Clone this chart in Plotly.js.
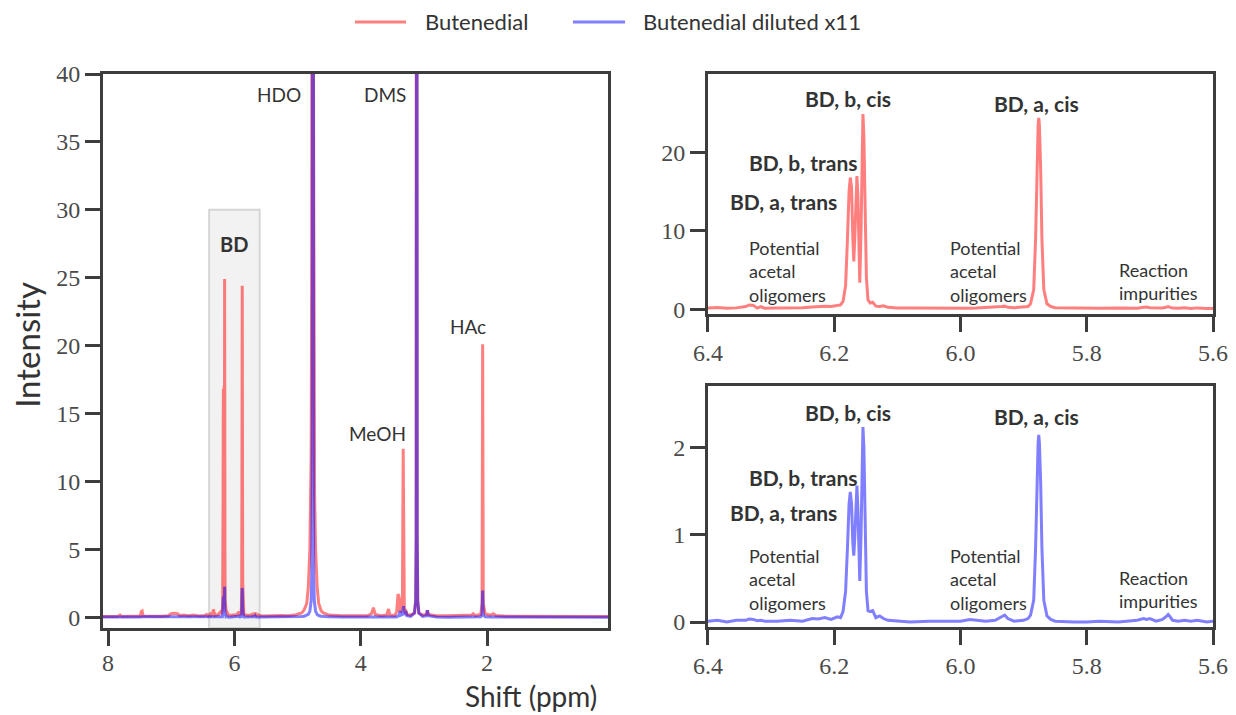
<!DOCTYPE html>
<html>
<head>
<meta charset="utf-8">
<script src="https://cdn.plot.ly/plotly-3.0.1.min.js"></script>
<style>
  html, body { margin: 0; padding: 0; background: #ffffff; }
  #chart { width: 1236px; height: 715px; }
</style>
</head>
<body>
<div id="chart"></div>
<script>
// 1H NMR spectra of butenedial, neat and diluted x11 (shift in ppm, intensity in a.u.)

// Downfield part of the spectrum, above the BD window
const highShift = [8.08, 7.95, 7.85, 7.81, 7.78, 7.65, 7.55, 7.49, 7.475, 7.46, 7.445, 7.30, 7.15, 7.05, 7.00, 6.95, 6.90, 6.86, 6.80, 6.72, 6.65, 6.55, 6.47, 6.44, 6.42];
const highRed   = [0.04, 0.06, 0.05, 0.15, 0.05, 0.06, 0.05, 0.06, 0.40, 0.45, 0.08, 0.05, 0.06, 0.10, 0.25, 0.28, 0.25, 0.12, 0.15, 0.10, 0.15, 0.08, 0.12, 0.20, 0.10];
const highBlue  = [0.01, 0.00, 0.01, 0.01, 0.00, 0.01, 0.00, 0.01, 0.02, 0.02, 0.01, 0.00, 0.01, 0.01, 0.01, 0.02, 0.01, 0.00, 0.01, 0.00, 0.01, 0.00, 0.01, 0.02, 0.01];

// BD window (6.4 - 5.6 ppm)
const bdShift = [6.400, 6.385, 6.370, 6.355, 6.340, 6.335, 6.328, 6.322, 6.316, 6.310,
                 6.290, 6.270, 6.250, 6.235, 6.225, 6.215, 6.205, 6.195, 6.190, 6.186,
                 6.182, 6.179, 6.1765, 6.1745, 6.1725, 6.1705, 6.169, 6.1675, 6.1655, 6.164,
                 6.1625, 6.161, 6.1595, 6.1575, 6.156, 6.1545, 6.153, 6.151, 6.149, 6.1465,
                 6.143, 6.139, 6.134, 6.128, 6.122, 6.115, 6.100, 6.080, 6.050, 6.020,
                 6.000, 5.985, 5.975, 5.960, 5.945, 5.935, 5.930, 5.925, 5.915, 5.900,
                 5.893, 5.889, 5.884, 5.881, 5.879, 5.877, 5.876, 5.875, 5.873, 5.871,
                 5.868, 5.863, 5.857, 5.850, 5.820, 5.800, 5.780, 5.750, 5.720, 5.710,
                 5.705, 5.700, 5.690, 5.680, 5.673, 5.671, 5.668, 5.664, 5.655, 5.645,
                 5.635, 5.625, 5.610, 5.600];
const bdRed   = [0.15, 0.22, 0.12, 0.18, 0.35, 0.55, 0.50, 0.15, 0.35, 0.12,
                 0.15, 0.15, 0.20, 0.30, 0.35, 0.40, 0.35, 0.50, 0.55, 1.0,
                 3.0, 9.0, 15.0, 16.8, 15.5, 9.0, 6.1, 9.0, 15.5, 17.0,
                 14.5, 7.0, 3.4, 10.0, 20.0, 24.9, 22.0, 12.0, 4.0, 1.2,
                 0.8, 0.9, 0.4, 0.35, 0.45, 0.25, 0.15, 0.15, 0.12, 0.15,
                 0.15, 0.12, 0.15, 0.20, 0.25, 0.35, 0.40, 0.25, 0.20, 0.25,
                 0.35, 0.7, 2.5, 9.0, 18.0, 23.5, 24.4, 23.5, 18.0, 9.0,
                 2.5, 0.7, 0.35, 0.20, 0.15, 0.12, 0.12, 0.15, 0.12, 0.25,
                 0.30, 0.20, 0.15, 0.18, 0.30, 0.35, 0.25, 0.15, 0.12, 0.20,
                 0.10, 0.18, 0.10, 0.12];
const bdBlue  = [0.01, 0.02, 0.00, 0.02, 0.02, 0.035, 0.03, 0.015, 0.02, 0.01,
                 0.01, 0.02, 0.01, 0.04, 0.035, 0.05, 0.03, 0.06, 0.05, 0.12,
                 0.35, 0.85, 1.35, 1.49, 1.35, 0.90, 0.76, 0.95, 1.40, 1.56,
                 1.30, 0.70, 0.47, 1.00, 1.80, 2.23, 2.00, 1.10, 0.35, 0.13,
                 0.12, 0.13, 0.05, 0.07, 0.04, 0.02, 0.01, 0.00, 0.01, 0.01,
                 0.01, 0.03, 0.02, 0.01, 0.02, 0.06, 0.08, 0.04, 0.01, 0.02,
                 0.04, 0.08, 0.25, 0.85, 1.60, 2.05, 2.14, 2.05, 1.60, 0.85,
                 0.25, 0.07, 0.03, 0.01, 0.00, 0.00, 0.01, 0.00, 0.02, 0.04,
                 0.03, 0.04, 0.01, 0.03, 0.07, 0.085, 0.06, 0.02, 0.01, 0.02,
                 0.01, 0.02, 0.00, 0.01];

// Upfield part: HDO, MeOH, DMS, HAc and minor signals
const lowShift = [5.55, 5.45, 5.35, 5.25, 5.15, 5.05, 4.935, 4.895, 4.855, 4.83,
                  4.805, 4.79, 4.785, 4.775, 4.772, 4.767, 4.76, 4.753, 4.748, 4.745,
                  4.735, 4.73, 4.715, 4.69, 4.665, 4.625, 4.585, 4.50, 4.30, 4.10,
                  3.90, 3.83, 3.80, 3.77, 3.68, 3.59, 3.56, 3.54, 3.46, 3.43,
                  3.41, 3.395, 3.38, 3.365, 3.34, 3.328, 3.322, 3.31, 3.30, 3.285,
                  3.27, 3.21, 3.15, 3.13, 3.122, 3.117, 3.114, 3.111, 3.106, 3.098,
                  3.08, 3.02, 2.96, 2.945, 2.93, 2.80, 2.60, 2.40, 2.25, 2.22,
                  2.19, 2.10, 2.08, 2.07, 2.06, 2.03, 1.95, 1.90, 1.86, 1.70,
                  1.40, 1.00, 0.60, 0.30, 0.085];
const lowRed   = [0.08, 0.10, 0.08, 0.12, 0.10, 0.15, 0.30, 0.55, 1.0, 2.2,
                  5.0, 9.0, 12.0, 28, 40, 90, 200, 90, 40, 28,
                  12.0, 9.0, 5.0, 2.2, 1.0, 0.45, 0.30, 0.15, 0.10, 0.08,
                  0.10, 0.25, 0.70, 0.20, 0.10, 0.15, 0.60, 0.15, 0.12, 0.40,
                  1.70, 1.50, 0.50, 0.45, 1.50, 12.4, 2.0, 0.60, 0.40, 0.45,
                  0.20, 0.15, 0.30, 1.2, 6, 60, 150, 60, 6, 1.2,
                  0.30, 0.15, 0.20, 0.50, 0.20, 0.10, 0.10, 0.12, 0.15, 0.25,
                  0.12, 0.20, 1.0, 20.1, 1.0, 0.25, 0.15, 0.25, 0.12, 0.06,
                  0.05, 0.05, 0.04, 0.05, 0.04];
const lowBlue  = [0.01, 0.00, 0.01, 0.00, 0.01, 0.02, 0.04, 0.07, 0.12, 0.20,
                  0.45, 0.90, 1.2, 3.0, 5, 15, 150, 15, 5, 3.0,
                  1.2, 0.90, 0.45, 0.20, 0.12, 0.07, 0.04, 0.02, 0.01, 0.00,
                  0.01, 0.01, 0.02, 0.01, 0.00, 0.01, 0.02, 0.01, 0.01, 0.03,
                  0.08, 0.10, 0.45, 0.15, 0.20, 0.50, 0.80, 0.25, 0.20, 0.45,
                  0.10, 0.05, 0.30, 1.2, 6, 60, 150, 60, 6, 1.2,
                  0.30, 0.05, 0.10, 0.50, 0.10, 0.01, 0.00, 0.01, 0.00, 0.01,
                  0.00, 0.02, 0.15, 1.95, 0.15, 0.02, 0.01, 0.01, 0.00, 0.00,
                  0.01, 0.00, 0.01, 0.00, 0.00];

const seriesNames = ['Butenedial', 'Butenedial diluted x11'];
const wideTicks = [8, 6, 4, 2];
const intensityTicks = [0, 5, 10, 15, 20, 25, 30, 35, 40];
const zoomTicks = [6.4, 6.2, 6.0, 5.8, 5.6];
const zoomTopTicks = [0, 10, 20];
const zoomBottomTicks = [0, 1, 2];

// Full spectra
const shift = highShift.concat(bdShift, lowShift);
const red = highRed.concat(bdRed, lowRed);
const blue = highBlue.concat(bdBlue, lowBlue);

const RED = 'rgba(255,0,0,0.5)';
const BLUE = 'rgba(0,0,255,0.5)';
const SERIF = 'Liberation Serif';
const SANS = 'Lato';
const INK = '#3d3d3d';
const TEXT = '#333333';

function line(x, y, color, xa, ya) {
  return { x: x, y: y, type: 'scatter', mode: 'lines', xaxis: xa, yaxis: ya,
           line: { color: color, width: 3 }, showlegend: false, hoverinfo: 'skip' };
}

const traces = [
  line(shift, red, RED, 'x', 'y'),
  line(shift, blue, BLUE, 'x', 'y'),
  line(shift, red, RED, 'x2', 'y2'),
  line(shift, blue, BLUE, 'x3', 'y3')
];

function axis(extra) {
  return Object.assign({
    showline: true, mirror: true, linewidth: 3, linecolor: INK,
    ticks: 'outside', ticklen: 15, tickwidth: 3, tickcolor: INK,
    showgrid: false, zeroline: false, fixedrange: true,
    tickfont: { family: SERIF, size: 24, color: '#4a4a4a' }
  }, extra);
}

const annotations = [];
function label(text, x, y, xa, ya, opts) {
  annotations.push(Object.assign({
    text: text, x: x, y: y, xref: xa, yref: ya, showarrow: false,
    xanchor: 'center', yanchor: 'middle',
    font: { family: SANS, size: 19, color: TEXT }
  }, opts || {}));
}
function block(text, x, y, xa, ya) {
  label(text, x, y, xa, ya, { xanchor: 'left', align: 'left', font: { family: SANS, size: 18, color: TEXT } });
}

// Wide spectrum labels
label('HDO', 4.913, 38.5, 'x', 'y', { xanchor: 'right' });
label('DMS', 3.251, 38.5, 'x', 'y', { xanchor: 'right' });
label('MeOH', 3.251, 13.5, 'x', 'y', { xanchor: 'right' });
label('HAc', 2.309, 21.4, 'x', 'y');
label('<b>BD</b>', 6.0, 27.45, 'x', 'y', { font: { family: SANS, size: 20, color: TEXT } });

// Zoomed windows
[['x2', 'y2', [26.9, 26.2, 18.7, 13.7, 4.76, 3.49]],
 ['x3', 'y3', [2.40, 2.354, 1.657, 1.257, 0.491, 0.377]]].forEach(function (p) {
  const xa = p[0], ya = p[1], v = p[2];
  const bold = { font: { family: SANS, size: 21, color: TEXT } };
  label('<b>BD, b, cis</b>', 6.178, v[0], xa, ya, bold);
  label('<b>BD, a, cis</b>', 5.879, v[1], xa, ya, bold);
  label('<b>BD, b, trans</b>', 6.249, v[2], xa, ya, bold);
  label('<b>BD, a, trans</b>', 6.280, v[3], xa, ya, bold);
  block('Potential<br>acetal<br>oligomers', 6.338, v[4], xa, ya);
  block('Potential<br>acetal<br>oligomers', 6.020, v[4], xa, ya);
  block('Reaction<br>impurities', 5.752, v[5], xa, ya);
});

// Axis titles
annotations.push({ text: 'Intensity', xref: 'paper', yref: 'paper', x: -0.0685, y: 0.511,
  textangle: -90, showarrow: false, xanchor: 'center', yanchor: 'middle',
  font: { family: SANS, size: 33, color: TEXT } });
annotations.push({ text: 'Shift (ppm)', xref: 'paper', yref: 'paper', x: 0.3856, y: -0.1227,
  showarrow: false, xanchor: 'center', yanchor: 'middle',
  font: { family: SANS, size: 28, color: TEXT } });

// Highlighted BD window and the legend keys
const shapes = [
  { type: 'rect', xref: 'x', yref: 'y', x0: 6.4, x1: 5.6, y0: -0.8, y1: 30, layer: 'below',
    fillcolor: '#f2f2f2', line: { color: '#d6d6d6', width: 2 } },
  { type: 'line', xref: 'paper', yref: 'paper', x0: 0.2270, x1: 0.2730, y0: 1.0939, y1: 1.0939,
    line: { color: RED, width: 3 } },
  { type: 'line', xref: 'paper', yref: 'paper', x0: 0.4234, x1: 0.4703, y0: 1.0939, y1: 1.0939,
    line: { color: BLUE, width: 3 } }
];
annotations.push({ text: seriesNames[0], xref: 'paper', yref: 'paper', x: 0.2883, y: 1.0939,
  showarrow: false, xanchor: 'left', yanchor: 'middle', font: { family: SANS, size: 22, color: TEXT } });
annotations.push({ text: seriesNames[1], xref: 'paper', yref: 'paper', x: 0.4847, y: 1.0939,
  showarrow: false, xanchor: 'left', yanchor: 'middle', font: { family: SANS, size: 22, color: TEXT } });

const layout = {
  width: 1236, height: 715,
  margin: { l: 103, r: 23, t: 74, b: 87 },
  paper_bgcolor: '#ffffff', plot_bgcolor: '#ffffff',
  font: { family: SERIF, color: '#4a4a4a' },
  showlegend: false,
  xaxis: axis({ domain: [0, 0.455], range: [8.08, 0.085], tickvals: wideTicks, anchor: 'y', ticklabelstandoff: -4 }),
  yaxis: axis({ domain: [0, 1], range: [-0.8, 40], tickvals: intensityTicks, anchor: 'x' }),
  xaxis2: axis({ domain: [0.545, 1], range: [6.4, 5.6], tickvals: zoomTicks, tickformat: '.1f', anchor: 'y2' }),
  yaxis2: axis({ domain: [0.5668, 1], range: [-0.6, 30], tickvals: zoomTopTicks, anchor: 'x2' }),
  xaxis3: axis({ domain: [0.545, 1], range: [6.4, 5.6], tickvals: zoomTicks, tickformat: '.1f', anchor: 'y3' }),
  yaxis3: axis({ domain: [0.0018, 0.4368], range: [-0.057, 2.7], tickvals: zoomBottomTicks, anchor: 'x3' }),
  shapes: shapes,
  annotations: annotations
};

Plotly.newPlot('chart', traces, layout, { displayModeBar: false, staticPlot: true });
</script>
</body>
</html>
